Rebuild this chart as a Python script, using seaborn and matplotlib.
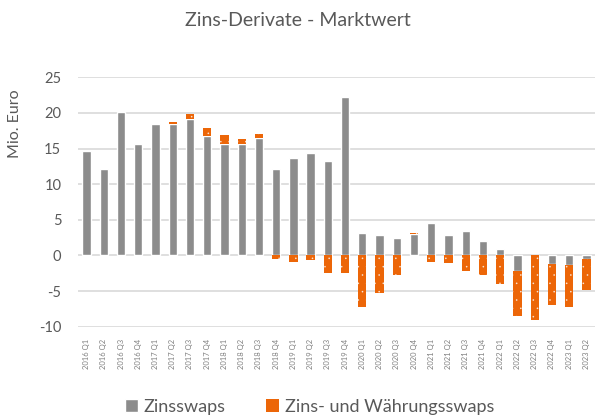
import numpy as np
import pandas as pd
import seaborn as sns
import matplotlib.pyplot as plt
from matplotlib.patches import Patch

# quarters 2016 Q1 .. 2023 Q2
quarters = [f"{y} Q{q}" for y in range(2016, 2024) for q in range(1, 5)][:30]

zinsswaps = [14.6, 12.1, 20.2, 15.7, 18.4, 18.5, 19.1, 16.8, 15.7, 15.7,
             16.5, 12.1, 13.7, 14.4, 13.2, 22.2, 3.2, 2.9, 2.5, 2.95,
             4.5, 2.9, 3.4, 2.1, 0.85, -2.2, 0.0, -1.15, -1.4, -0.55]
waehrungsswaps = [0, 0, 0, 0, 0, 0.25, 0.75, 1.1, 1.25, 0.6,
                  0.5, -0.5, -0.85, -0.65, -2.4, -2.4, -7.2, -5.2, -2.7, 0.15,
                  -0.85, -1.1, -2.15, -2.8, -4.05, -6.35, -9.1, -5.85, -5.8, -4.3]

yticks = [-10, -5, 0, 5, 10, 15, 20, 25]

GREY = "#8c8c8c"
ORANGE = "#ec6608"
TEXT = "#595959"

sns.set_theme(style="white")
plt.rcParams['font.family'] = ['Lato', 'DejaVu Sans']
plt.rcParams['hatch.linewidth'] = 0.0

df = pd.DataFrame({"Quartal": quarters, "Zinsswaps": zinsswaps,
                   "Waehrung": waehrungsswaps})

fig = plt.figure(figsize=(5.95, 4.17), dpi=100)
ax = fig.add_axes([0.131, 0.2165, 0.869, 0.598])

sns.barplot(data=df, x="Quartal", y="Zinsswaps", color=GREY, saturation=1,
            width=0.48, errorbar=None, ax=ax, zorder=3)

# stack the second series on the same side of zero as the first
g = np.array(zinsswaps)
w = np.array(waehrungsswaps)
bottom = np.where(np.sign(g) == np.sign(w), g, 0.0)
ax.bar(np.arange(len(quarters)), w, bottom=bottom, width=0.48, color=ORANGE,
       edgecolor="#fbe3d2", linewidth=0, hatch="..", zorder=3)

ax.set_ylim(-10, 25)
ax.set_xlim(-0.5, len(quarters) - 0.5)
ax.set_yticks(yticks)
ax.set_yticklabels([str(t) for t in yticks], fontsize=10.5, color=TEXT)
ax.set_xticks(range(len(quarters)))
ax.set_xticklabels(quarters, rotation=90, fontsize=5.5, color="#808080")
ax.tick_params(axis="both", length=0)
ax.tick_params(axis="x", pad=9)
ax.tick_params(axis="y", pad=12)
ax.set_xlabel("")
ax.set_ylabel("")
ax.yaxis.grid(True, color="#d9d9d9", linewidth=1.2, zorder=0)
ax.set_axisbelow(True)
for s in ax.spines.values():
    s.set_visible(False)

fig.text(0.5, 0.952, "Zins-Derivate - Marktwert", ha="center", va="center",
         fontsize=14, color=TEXT)
fig.text(0.026, 0.704, "Mio. Euro", rotation=90, ha="center", va="center",
         fontsize=11.5, color=TEXT)

handles = [Patch(facecolor=GREY, label="Zinsswaps"),
           Patch(facecolor=ORANGE, edgecolor=ORANGE, linewidth=0,
                 label="Zins- und Währungsswaps")]
leg = fig.legend(handles=handles, loc="center", bbox_to_anchor=(0.52, 0.024),
                 ncol=2, frameon=False, fontsize=13, handlelength=0.75,
                 handleheight=0.75, handletextpad=0.3, columnspacing=2.2)
for t in leg.get_texts():
    t.set_color(TEXT)

fig.savefig("out.png", dpi=100)
